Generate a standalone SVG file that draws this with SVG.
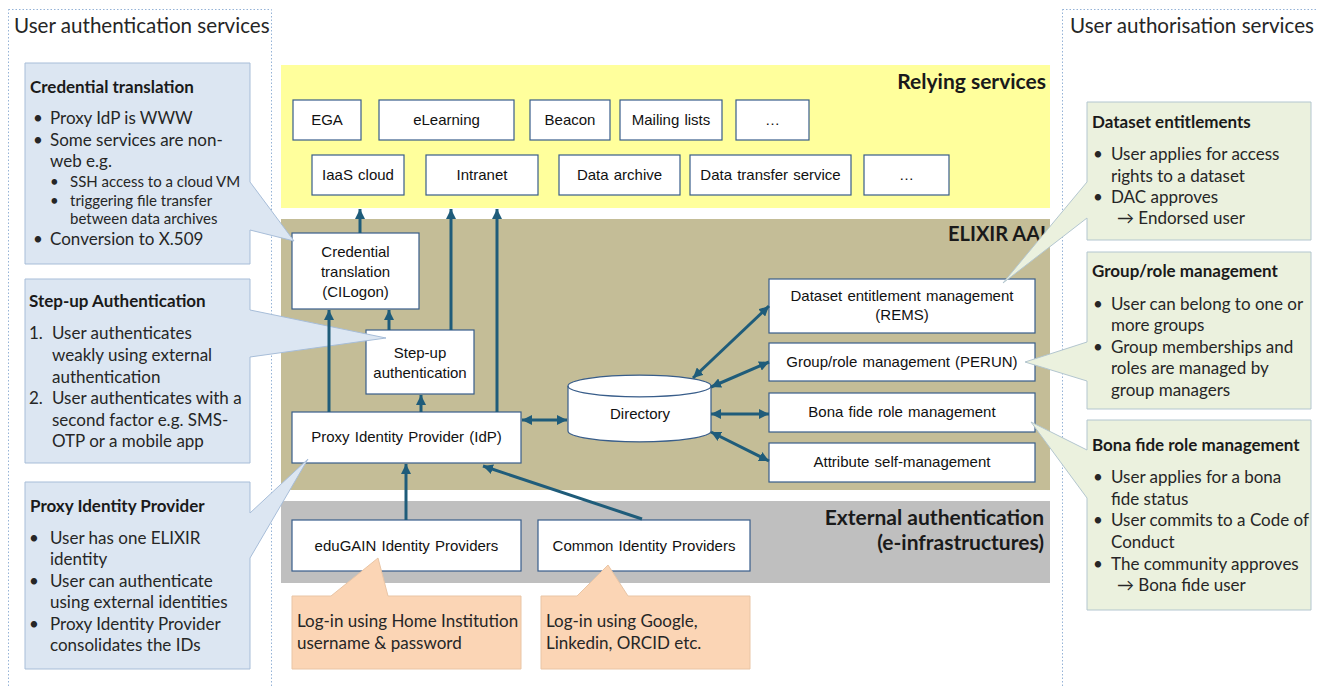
<svg xmlns="http://www.w3.org/2000/svg" width="1318" height="687" viewBox="0 0 1318 687">
<defs>
<style>
.panel{fill:none;stroke:#95B3D7;stroke-width:1;stroke-dasharray:1.5 2}
.ptitle{font-family:Lato,"DejaVu Sans",sans-serif;font-size:20.6px;fill:#262626}
.sec{font-family:Lato,"DejaVu Sans",sans-serif;font-size:21px;font-weight:bold;fill:#1a1a1a;text-anchor:end}
.node rect,.node path{fill:#fff;stroke:#385D8A;stroke-width:1.2}
.node text{font-family:"Liberation Sans",Arial,sans-serif;font-size:15px;fill:#111;text-anchor:middle;word-spacing:1px}
.cb{fill:#DCE6F2;stroke:#A7BDD8;stroke-width:1}
.cg{fill:#EBF1DE;stroke:#B3C6CF;stroke-width:1}
.co{fill:#FBD5B5;stroke:#E9C5A5;stroke-width:1}
.ct{font-family:Lato,"DejaVu Sans",sans-serif;font-size:17px;font-weight:bold;fill:#1a1a1a}
.cx{font-family:Lato,"DejaVu Sans",sans-serif;font-size:17px;fill:#262626}
.cs{font-family:Lato,"DejaVu Sans",sans-serif;font-size:15px;fill:#262626}
.conn line{stroke:#1F5C7A;stroke-width:3}
</style>
<marker id="ah" viewBox="0 0 10 10" refX="10" refY="5" markerWidth="10" markerHeight="10" markerUnits="userSpaceOnUse" orient="auto-start-reverse">
<path d="M0,0 L10,5 L0,10 Z" fill="#1F5C7A"/>
</marker>
</defs>

<!-- side panels -->
<rect class="panel" x="8.5" y="9.5" width="263" height="700"/>
<rect class="panel" x="1062.5" y="9.5" width="270" height="700"/>
<text class="ptitle" x="14" y="33">User authentication services</text>
<text class="ptitle" x="1070" y="33">User authorisation services</text>

<!-- layers -->
<rect x="281" y="65" width="769" height="143" fill="#FFFF9C"/>
<text class="sec" x="1046" y="89">Relying services</text>
<rect x="281" y="219" width="769" height="271" fill="#C4BD97"/>
<text class="sec" x="1046" y="241" style="font-size:20px">ELIXIR AAI</text>
<rect x="281" y="501" width="769" height="82" fill="#BFBFBF"/>
<text class="sec" x="1044" y="525">External authentication</text>
<text class="sec" x="1044" y="550">(e-infrastructures)</text>

<!-- relying service nodes -->
<g id="n-ega" class="node"><rect x="293" y="100" width="68" height="40"/><text x="327" y="125">EGA</text></g>
<g id="n-elearning" class="node"><rect x="379" y="100" width="135" height="40"/><text x="446.5" y="125">eLearning</text></g>
<g id="n-beacon" class="node"><rect x="530" y="100" width="80" height="40"/><text x="570" y="125">Beacon</text></g>
<g id="n-mailing" class="node"><rect x="620" y="100" width="102" height="40"/><text x="671" y="125">Mailing lists</text></g>
<g id="n-more1" class="node"><rect x="736" y="100" width="73" height="40"/><text x="772.5" y="125">…</text></g>
<g id="n-iaas" class="node"><rect x="312" y="155" width="92" height="40"/><text x="358" y="180">IaaS cloud</text></g>
<g id="n-intranet" class="node"><rect x="426" y="155" width="112" height="40"/><text x="482" y="180">Intranet</text></g>
<g id="n-archive" class="node"><rect x="559" y="155" width="121" height="40"/><text x="619.5" y="180">Data archive</text></g>
<g id="n-transfer" class="node"><rect x="690" y="155" width="161" height="40"/><text x="770.5" y="180">Data transfer service</text></g>
<g id="n-more2" class="node"><rect x="864" y="155" width="85" height="40"/><text x="906.5" y="180">…</text></g>

<!-- ELIXIR AAI nodes -->
<g id="n-credential" class="node"><rect x="292" y="233" width="127" height="76"/><text x="355.5" y="257">Credential</text><text x="355.5" y="277">translation</text><text x="355.5" y="297">(CILogon)</text></g>
<g id="n-stepup" class="node"><rect x="366" y="330" width="108" height="64"/><text x="420" y="357.5">Step-up</text><text x="420" y="377.5">authentication</text></g>
<g id="n-proxy" class="node"><rect x="292" y="412" width="229" height="51"/><text x="406.5" y="442">Proxy Identity Provider (IdP)</text></g>
<g id="n-directory" class="node"><path d="M568,386 A71.5,10.8 0 0,1 711,386 L711,431 A71.5,10.8 0 0,1 568,431 Z"/><path d="M568,386 A71.5,10.8 0 0,0 711,386" style="fill:none"/><text x="640" y="419">Directory</text></g>
<g id="n-rems" class="node"><rect x="769" y="279" width="266" height="54"/><text x="902" y="301">Dataset entitlement management</text><text x="902" y="320">(REMS)</text></g>
<g id="n-perun" class="node"><rect x="769" y="343" width="266" height="38"/><text x="902" y="367">Group/role management (PERUN)</text></g>
<g id="n-bonafide" class="node"><rect x="769" y="393" width="266" height="39"/><text x="902" y="417">Bona fide role management</text></g>
<g id="n-attribute" class="node"><rect x="769" y="443" width="266" height="39"/><text x="902" y="467">Attribute self-management</text></g>

<!-- external nodes -->
<g id="n-edugain" class="node"><rect x="292" y="520" width="229" height="51"/><text x="406.5" y="551">eduGAIN Identity Providers</text></g>
<g id="n-common" class="node"><rect x="538" y="520" width="212" height="51"/><text x="644" y="551">Common Identity Providers</text></g>

<!-- left callouts -->
<g id="c-credential">
<path class="cb" d="M25,63 H250 V182 L294,241 L250,230 V264 H25 Z"/>
<text class="ct" x="30" y="93">Credential translation</text>
<text class="cx" x="33" y="124">•</text><text class="cx" x="50" y="124">Proxy IdP is WWW</text>
<text class="cx" x="33" y="145.5">•</text><text class="cx" x="50" y="145.5">Some services are non-</text>
<text class="cx" x="50" y="167">web e.g.</text>
<text class="cs" x="50" y="187">•</text><text class="cs" x="70" y="187">SSH access to a cloud VM</text>
<text class="cs" x="50" y="205.5">•</text><text class="cs" x="70" y="205.5">triggering file transfer</text>
<text class="cs" x="70" y="224">between data archives</text>
<text class="cx" x="33" y="245">•</text><text class="cx" x="50" y="245">Conversion to X.509</text>
</g>
<g id="c-stepup">
<path class="cb" d="M25,279 H250 V310 L386,338 L250,357 V463 H25 Z"/>
<text class="ct" x="29" y="307">Step-up Authentication</text>
<text class="cx" x="29" y="339">1.</text><text class="cx" x="52" y="339">User authenticates</text>
<text class="cx" x="52" y="361">weakly using external</text>
<text class="cx" x="52" y="382.5">authentication</text>
<text class="cx" x="29" y="404">2.</text><text class="cx" x="52" y="404">User authenticates with a</text>
<text class="cx" x="52" y="425.5">second factor e.g. SMS-</text>
<text class="cx" x="52" y="447">OTP or a mobile app</text>
</g>
<g id="c-proxy">
<path class="cb" d="M25,482 H250 V513 L308,459 L250,558 V669 H25 Z"/>
<text class="ct" x="30" y="512">Proxy Identity Provider</text>
<text class="cx" x="29" y="544">•</text><text class="cx" x="50" y="544">User has one ELIXIR</text>
<text class="cx" x="50" y="565">identity</text>
<text class="cx" x="29" y="587">•</text><text class="cx" x="50" y="587">User can authenticate</text>
<text class="cx" x="50" y="608">using external identities</text>
<text class="cx" x="29" y="630">•</text><text class="cx" x="50" y="630">Proxy Identity Provider</text>
<text class="cx" x="50" y="651">consolidates the IDs</text>
</g>

<!-- bottom callouts -->
<g id="c-home">
<path class="co" d="M292,596 H331 L378,558 L388,596 H521 V669 H292 Z"/>
<text class="cx" x="297" y="627">Log-in using Home Institution</text>
<text class="cx" x="297" y="649">username &amp; password</text>
</g>
<g id="c-social">
<path class="co" d="M541,596 H577 L608,565 L628,596 H750 V669 H541 Z"/>
<text class="cx" x="546" y="627">Log-in using Google,</text>
<text class="cx" x="546" y="649">Linkedin, ORCID etc.</text>
</g>

<!-- right callouts -->
<g id="c-dataset">
<path class="cg" d="M1087,102 H1311 V240 H1087 V218 L1003,283 L1087,182 Z"/>
<text class="ct" x="1092" y="128">Dataset entitlements</text>
<text class="cx" x="1093" y="160">•</text><text class="cx" x="1111" y="160">User applies for access</text>
<text class="cx" x="1111" y="181.5">rights to a dataset</text>
<text class="cx" x="1093" y="203">•</text><text class="cx" x="1111" y="203">DAC approves</text>
<text class="cx" x="1117" y="224">→ Endorsed user</text>
</g>
<g id="c-group">
<path class="cg" d="M1087,252 H1311 V409 H1087 V381 L1025,362 L1087,342 Z"/>
<text class="ct" x="1092" y="277">Group/role management</text>
<text class="cx" x="1093" y="310">•</text><text class="cx" x="1111" y="310">User can belong to one or</text>
<text class="cx" x="1111" y="331">more groups</text>
<text class="cx" x="1093" y="353">•</text><text class="cx" x="1111" y="353">Group memberships and</text>
<text class="cx" x="1111" y="374">roles are managed by</text>
<text class="cx" x="1111" y="396">group managers</text>
</g>
<g id="c-bonafide">
<path class="cg" d="M1087,420 H1311 V610 H1087 V498 L1031,422 L1087,450 Z"/>
<text class="ct" x="1092" y="451">Bona fide role management</text>
<text class="cx" x="1093" y="483">•</text><text class="cx" x="1111" y="483">User applies for a bona</text>
<text class="cx" x="1111" y="505">fide status</text>
<text class="cx" x="1093" y="526">•</text><text class="cx" x="1111" y="526">User commits to a Code of</text>
<text class="cx" x="1111" y="548">Conduct</text>
<text class="cx" x="1093" y="570">•</text><text class="cx" x="1111" y="570">The community approves</text>
<text class="cx" x="1117" y="591">→ Bona fide user</text>
</g>

<!-- connectors -->
<g id="connectors" class="conn">
<line x1="360" y1="233" x2="360" y2="209" marker-end="url(#ah)"/>
<line x1="451" y1="330" x2="451" y2="209" marker-end="url(#ah)"/>
<line x1="497" y1="412" x2="497" y2="209" marker-end="url(#ah)"/>
<line x1="329" y1="412" x2="329" y2="310" marker-end="url(#ah)"/>
<line x1="389" y1="330" x2="389" y2="310" marker-end="url(#ah)"/>
<line x1="421" y1="412" x2="421" y2="395" marker-end="url(#ah)"/>
<line x1="522" y1="420" x2="567" y2="420" marker-start="url(#ah)" marker-end="url(#ah)"/>
<line x1="406" y1="520" x2="406" y2="464" marker-end="url(#ah)"/>
<line x1="642" y1="519" x2="483" y2="466" marker-end="url(#ah)"/>
<line x1="693" y1="378" x2="769" y2="306" marker-start="url(#ah)" marker-end="url(#ah)"/>
<line x1="711" y1="387" x2="769" y2="362" marker-start="url(#ah)" marker-end="url(#ah)"/>
<line x1="711" y1="414" x2="769" y2="414" marker-start="url(#ah)" marker-end="url(#ah)"/>
<line x1="711" y1="432" x2="769" y2="461" marker-start="url(#ah)" marker-end="url(#ah)"/>
</g>
</svg>
